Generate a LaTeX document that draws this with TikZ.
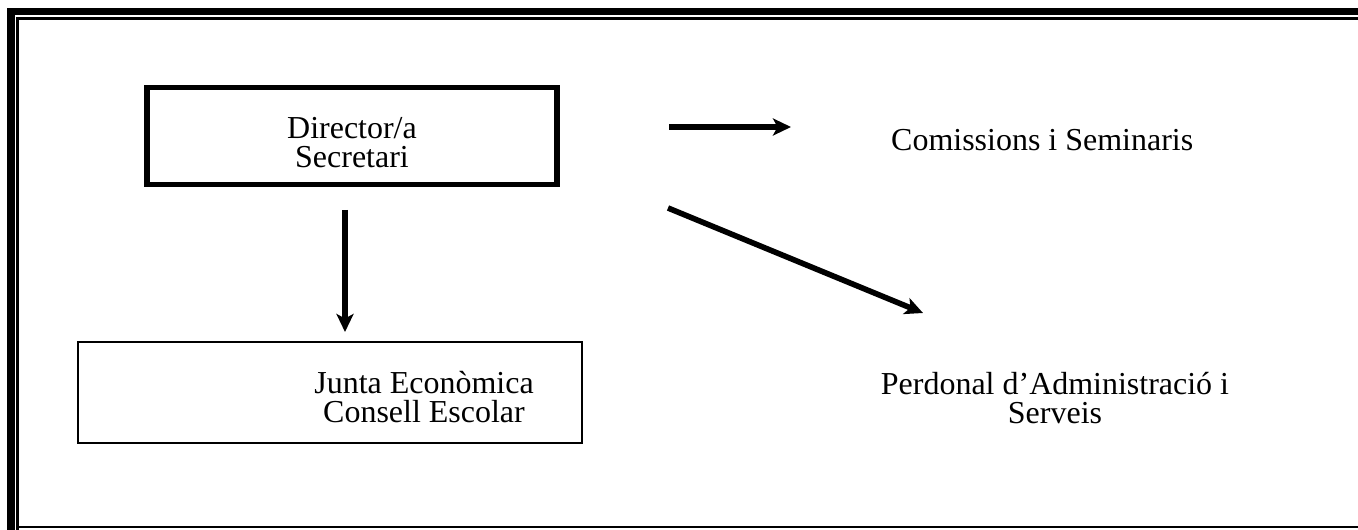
\documentclass[tikz,border=0pt]{standalone}
\usepackage{fontspec}
\setmainfont{Liberation Serif}
\usetikzlibrary{arrows.meta,positioning}

\begin{document}
\begin{tikzpicture}[x=0.02cm, y=-0.02cm, every node/.style={font=\fontsize{18.2pt}{17pt}\selectfont}]
  \useasboundingbox (0,0) rectangle (1358,530);
  \clip (0,0) rectangle (1358,530);
  % page frame
  \draw[line width=4pt] (11,600) -- (11,11.5) -- (1450,11.5);
  \draw[line width=1.4pt] (17.5,1450) -- (17.5,18.5) -- (1450,18.5);
  \draw[line width=1.4pt] (17.5,527) -- (1450,527);

  \node[draw, line width=3.4pt, minimum width=8.2cm, minimum height=1.94cm, align=center] (dir) at (352,136) {\rule{0pt}{19.5pt}Director/a\\Secretari};
  \node[draw, line width=1.1pt, minimum width=10.1cm, minimum height=2.02cm] (junta) at (330,392.5) {};
  \node[align=center] (juntatext) at (424,397) {Junta Econòmica\\Consell Escolar};
  \node[anchor=west] (comis) at (885,140) {Comissions i Seminaris};
  \node[align=center] (pas) at (1055,398) {Perdonal d’Administració i\\Serveis};

  \coordinate (a1) at (669,127);
  \coordinate (a2) at (791,127);
  \coordinate (b1) at (345,210);
  \coordinate (b2) at (345,332);
  \coordinate (c1) at (668,208);
  \coordinate (c2) at (923,313);

  \draw[-{Stealth[length=0.36cm, width=0.34cm, inset=0.09cm]}, line width=3.2pt] (a1) -- (a2);
  \draw[-{Stealth[length=0.36cm, width=0.34cm, inset=0.09cm]}, line width=3.2pt] (b1) -- (b2);
  \draw[-{Stealth[length=0.36cm, width=0.34cm, inset=0.09cm]}, line width=3.2pt] (c1) -- (c2);
\end{tikzpicture}
\end{document}
